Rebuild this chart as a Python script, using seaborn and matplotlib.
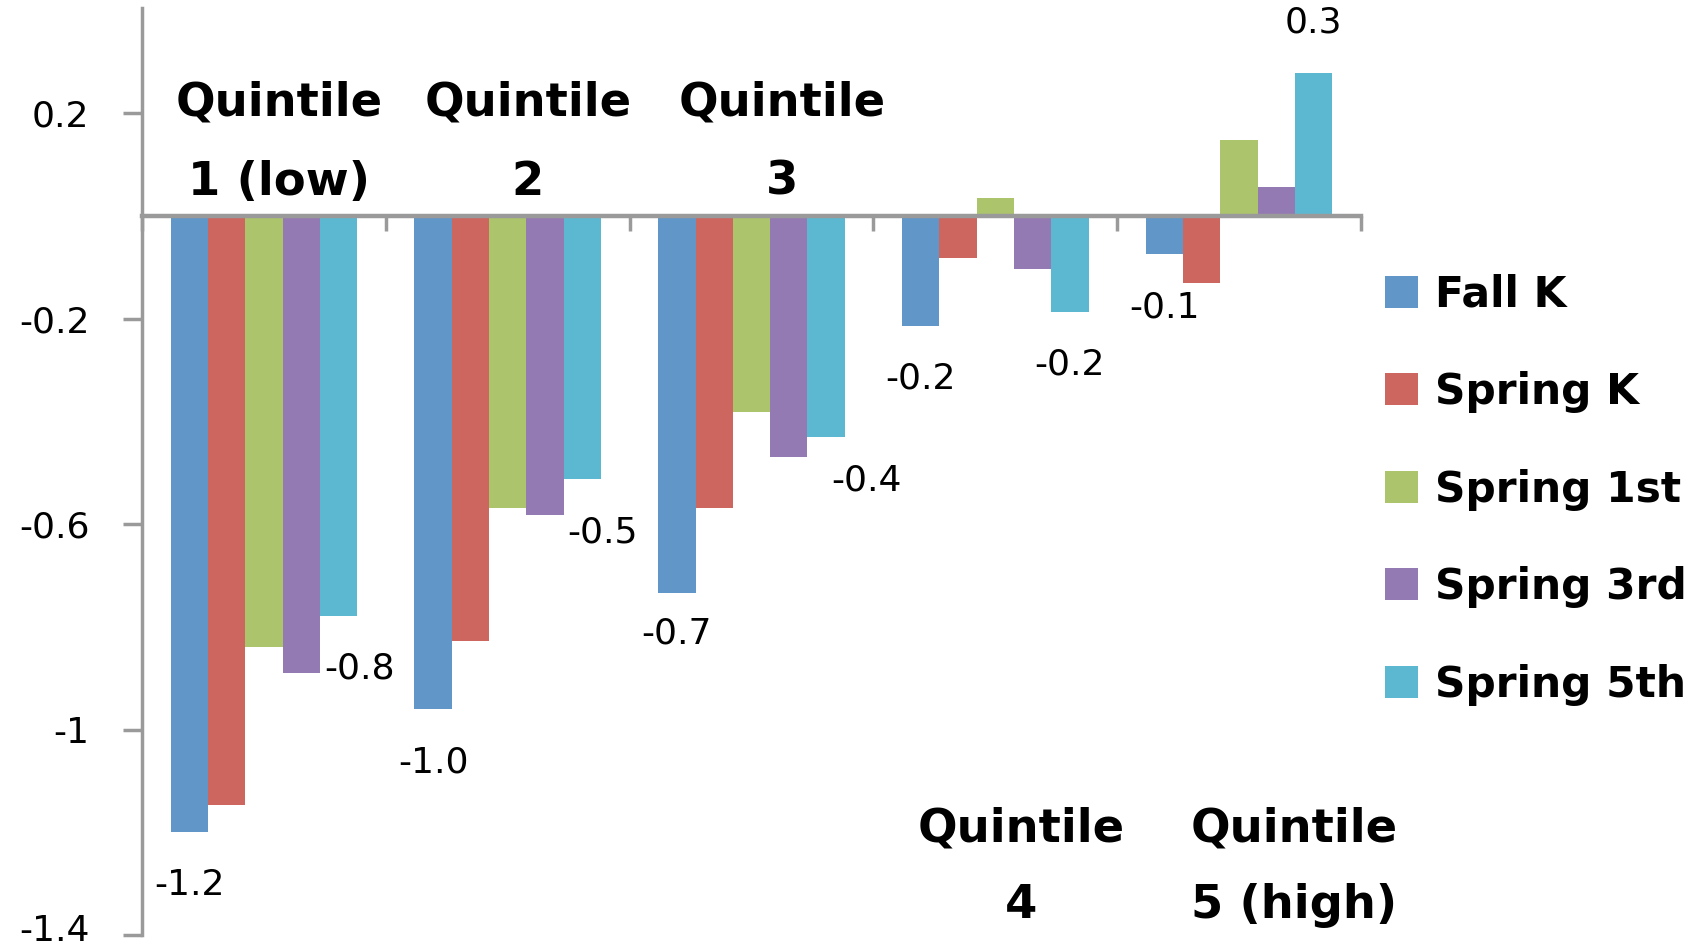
import numpy as np
import pandas as pd
import seaborn as sns
import matplotlib
matplotlib.use("Agg")
import matplotlib.pyplot as plt
import matplotlib.transforms as mtransforms
from matplotlib.patches import Patch

# ---- data -------------------------------------------------------------
quintiles = ["Quintile 1 (low)", "Quintile 2", "Quintile 3", "Quintile 4", "Quintile 5 (high)"]
series = ["Fall K", "Spring K", "Spring 1st", "Spring 3rd", "Spring 5th"]

fall_k     = [-1.20, -0.96, -0.735, -0.214, -0.075]
spring_k   = [-1.146, -0.827, -0.568, -0.081, -0.130]
spring_1st = [-0.840, -0.568, -0.381, 0.035, 0.148]
spring_3rd = [-0.889, -0.583, -0.470, -0.103, 0.056]
spring_5th = [-0.778, -0.513, -0.430, -0.186, 0.278]

colors = ["#6196C8", "#CD665F", "#ACC56C", "#947AB2", "#5CB8D1"]

# two-line category captions
caption_top = ["Quintile", "Quintile", "Quintile", "Quintile", "Quintile"]
caption_bottom = ["1 (low)", "2", "3", "4", "5 (high)"]
caption_above = [True, True, True, False, False]

yticks = [-1.4, -1.0, -0.6, -0.2, 0.2]
ytick_labels = ["-1.4", "-1", "-0.6", "-0.2", "0.2"]

# series that carry value labels
labelled_series = ["Fall K", "Spring 5th"]

# ---- long-form table ---------------------------------------------------
values = [fall_k, spring_k, spring_1st, spring_3rd, spring_5th]
df = pd.DataFrame({
    "quintile": np.tile(quintiles, len(series)),
    "series": np.repeat(series, len(quintiles)),
    "value": np.concatenate(values),
})

# ---- style ---------------------------------------------------------------
sns.set_theme(style="white")
plt.rcParams["font.family"] = ["DejaVu Sans"]
plt.rcParams["axes.unicode_minus"] = False
plt.rcParams["text.color"] = "black"

fig = plt.figure(figsize=(17.03, 9.50), dpi=100)
ax = fig.add_axes([0.0834, 0.0158, 0.7158, 0.9758])

sns.barplot(
    data=df, x="quintile", y="value", hue="series",
    order=quintiles, hue_order=series, palette=colors,
    width=0.765, gap=0, saturation=1, errorbar=None,
    linewidth=0, legend=False, ax=ax,
)

ax.set_xlim(-0.5, len(quintiles) - 0.5)
ax.set_ylim(-1.4, 0.405)

axis_grey = "#9A9A9A"
for side in ["top", "right"]:
    ax.spines[side].set_visible(False)
ax.spines["left"].set_color(axis_grey)
ax.spines["left"].set_linewidth(2.5)
ax.spines["bottom"].set_position(("data", 0))
ax.spines["bottom"].set_color(axis_grey)
ax.spines["bottom"].set_linewidth(3.2)

# category boundaries as x ticks, no tick labels
ax.set_xticks(np.arange(-0.5, len(quintiles), 1.0))
ax.set_xticklabels([])
ax.tick_params(axis="x", direction="out", length=11, width=2.5, color=axis_grey, bottom=True)
ax.set_xlabel("")
ax.set_ylabel("")

ax.set_yticks(yticks)
ax.set_yticklabels(ytick_labels)
ax.tick_params(axis="y", direction="out", length=14, width=2.5, color=axis_grey,
               pad=24, labelsize=26, labelcolor="black", left=True)

# lift the lowest tick label slightly so it stays inside the figure
lowest = ax.get_yticklabels()[0]
lowest.set_transform(lowest.get_transform() +
                     mtransforms.ScaledTranslation(0, 7 / 100, fig.dpi_scale_trans))

# ---- value labels ------------------------------------------------------
# per-label pixel offsets from the bar end (dx, dy)
label_offsets = {
    "Fall K":     [(0, -53), (0, -53), (0, -40), (0, -53), (0, -53)],
    "Spring 5th": [(21, -53), (20, -53), (40, -44), (0, -53), (0, 51)],
}
for s_idx, name in enumerate(series):
    if name not in labelled_series:
        continue
    container = ax.containers[s_idx]
    for q_idx, bar in enumerate(container):
        v = values[s_idx][q_idx]
        dx, dy = label_offsets[name][q_idx]
        ax.annotate(
            f"{v:.1f}",
            xy=(bar.get_x() + bar.get_width() / 2, v),
            xytext=(dx, dy), textcoords="offset pixels",
            ha="center", va="center", fontsize=26, color="black",
        )

# ---- category captions -------------------------------------------------
caption_shift = [0.061, 0.082, 0.127, 0.107, 0.225]
for i in range(len(quintiles)):
    x = i + caption_shift[i]
    if caption_above[i]:
        y1, y2 = 0.195, 0.041
    else:
        y1, y2 = -1.218, -1.366
    ax.text(x, y1, caption_top[i], ha="center", va="baseline",
            fontsize=33.5, fontweight="bold", color="black")
    ax.text(x, y2, caption_bottom[i], ha="center", va="baseline",
            fontsize=33.5, fontweight="bold", color="black")

# ---- legend --------------------------------------------------------------
handles = [Patch(facecolor=c, edgecolor="none") for c in colors]
fig.legend(
    handles, series, loc="upper left", bbox_to_anchor=(0.8133, 0.712),
    frameon=False, prop={"size": 30.5, "weight": "bold"}, labelcolor="black",
    handlelength=0.78, handleheight=0.78, handletextpad=0.4,
    labelspacing=1.31, borderpad=0, borderaxespad=0,
)

fig.savefig("out.png", dpi=100)
